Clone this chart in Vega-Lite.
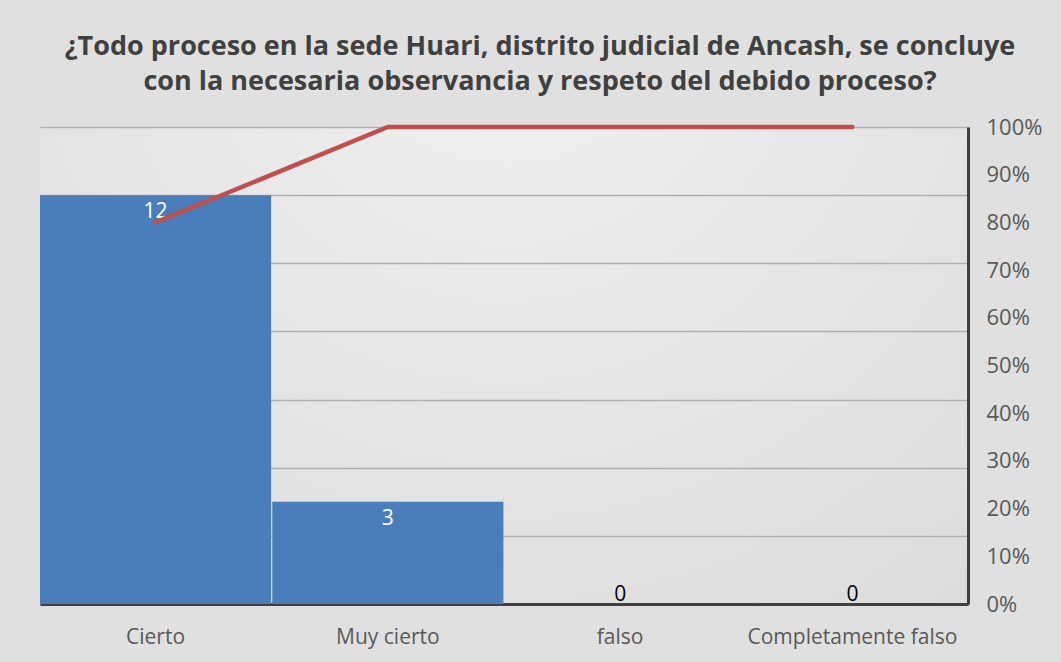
{
  "$schema": "https://vega.github.io/schema/vega-lite/v6.json",
  "width": 928,
  "height": 477,
  "autosize": {"type": "none"},
  "padding": {"left": 40, "top": 127, "right": 93, "bottom": 58},
  "background": "#e0e0e0",
  "config": {
    "font": "Open Sans",
    "view": {
      "stroke": null,
      "fill": {
        "gradient": "radial",
        "x1": 0.5, "y1": 0.1, "r1": 0,
        "x2": 0.5, "y2": 0.1, "r2": 0.9,
        "stops": [
          {"offset": 0, "color": "#f1f1f1"},
          {"offset": 1, "color": "#dadada"}
        ]
      }
    }
  },
  "title": {
    "text": [
      "¿Todo proceso en la sede Huari, distrito judicial de Ancash, se concluye",
      "con la necesaria observancia y respeto del debido proceso?"
    ],
    "font": "Open Sans",
    "fontSize": 27,
    "fontWeight": "bold",
    "color": "#404040",
    "anchor": "middle",
    "dx": 36,
    "offset": 20,
    "lineHeight": 35
  },
  "data": {
    "values": [
      {"respuesta": "Cierto", "frecuencia": 12, "acumulado": 0.8},
      {"respuesta": "Muy cierto", "frecuencia": 3, "acumulado": 1.0},
      {"respuesta": "falso", "frecuencia": 0, "acumulado": 1.0},
      {"respuesta": "Completamente falso", "frecuencia": 0, "acumulado": 1.0}
    ]
  },
  "encoding": {
    "x": {
      "field": "respuesta",
      "type": "nominal",
      "sort": null,
      "scale": {
        "domain": ["Cierto", "Muy cierto", "falso", "Completamente falso"],
        "paddingInner": 0.005,
        "paddingOuter": 0
      },
      "axis": {
        "title": null,
        "labelAngle": 0,
        "labelFontSize": 21,
        "labelColor": "#595959",
        "labelLimit": 400,
        "ticks": false,
        "domainColor": "#404040",
        "domainWidth": 3,
        "labelPadding": 22,
        "grid": false
      }
    }
  },
  "layer": [
    {
      "mark": {"type": "bar", "color": "#4a7ebb"},
      "encoding": {
        "y": {
          "field": "frecuencia",
          "type": "quantitative",
          "scale": {"domain": [0, 14]},
          "axis": {
            "values": [0, 2, 4, 6, 8, 10, 12, 14],
            "grid": true,
            "gridColor": "#b0b0b0",
            "gridWidth": 1.5,
            "labels": false,
            "ticks": false,
            "domain": false,
            "title": null
          }
        }
      }
    },
    {
      "transform": [{"filter": "datum.frecuencia > 0"}],
      "mark": {"type": "text", "color": "white", "fontSize": 21, "baseline": "top", "dy": 6},
      "encoding": {
        "y": {"field": "frecuencia", "type": "quantitative", "scale": {"domain": [0, 14]}, "axis": null},
        "text": {"field": "frecuencia", "type": "quantitative"}
      }
    },
    {
      "transform": [{"filter": "datum.frecuencia == 0"}],
      "mark": {"type": "text", "color": "black", "fontSize": 21, "baseline": "alphabetic", "dy": -3},
      "encoding": {
        "y": {"field": "frecuencia", "type": "quantitative", "scale": {"domain": [0, 14]}, "axis": null},
        "text": {"field": "frecuencia", "type": "quantitative"}
      }
    },
    {
      "mark": {"type": "line", "color": "#c0504d", "strokeWidth": 4.5, "strokeCap": "round"},
      "encoding": {
        "y": {
          "field": "acumulado",
          "type": "quantitative",
          "scale": {"domain": [0, 1]},
          "axis": {
            "orient": "right",
            "format": ".0%",
            "values": [0, 0.1, 0.2, 0.3, 0.4, 0.5, 0.6, 0.7, 0.8, 0.9, 1],
            "grid": false,
            "ticks": false,
            "tickSize": 0,
            "domainColor": "#404040",
            "domainWidth": 3,
            "labelFontSize": 22,
            "labelColor": "#595959",
            "labelPadding": 18,
            "title": null
          }
        }
      }
    }
  ],
  "resolve": {"scale": {"y": "independent"}}
}
